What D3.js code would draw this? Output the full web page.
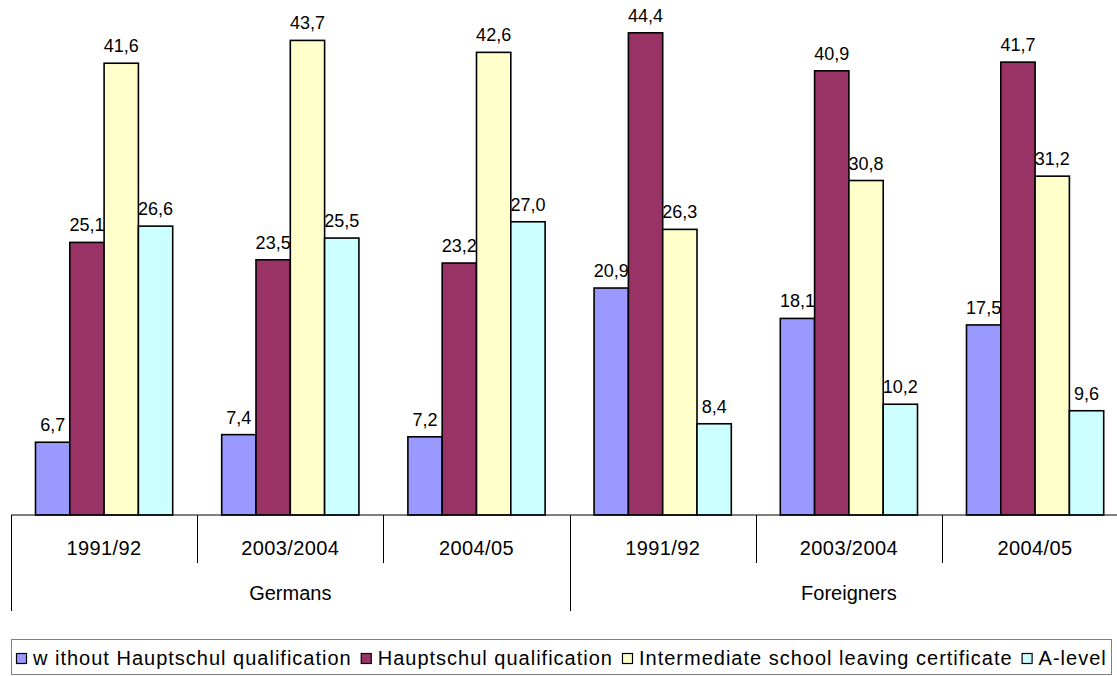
<!DOCTYPE html>
<html>
<head>
<meta charset="utf-8">
<script src="https://cdn.jsdelivr.net/npm/d3@7/dist/d3.min.js"></script>
<style>
html,body{margin:0;padding:0;background:#fff;}
svg{display:block;font-family:"Liberation Sans",Arial,sans-serif;}
</style>
</head>
<body>
<svg id="chart" width="1117" height="676"></svg>
<script>
const categories = ["1991/92","2003/2004","2004/05","1991/92","2003/2004","2004/05"];
const groups = ["Germans","Foreigners"];
const groupSize = 3;
const seriesNames = ["w ithout Hauptschul qualification","Hauptschul qualification","Intermediate school leaving certificate","A-level"];
const withoutHS = [6.7, 7.4, 7.2, 20.9, 18.1, 17.5];
const hauptschul = [25.1, 23.5, 23.2, 44.4, 40.9, 41.7];
const intermediate = [41.6, 43.7, 42.6, 26.3, 30.8, 31.2];
const aLevel = [26.6, 25.5, 27.0, 8.4, 10.2, 9.6];
const seriesValues = [withoutHS, hauptschul, intermediate, aLevel];
const colors = ["#9999FF","#993366","#FFFFCC","#CCFFFF"];

const svg = d3.select("#chart");
const left = 11, step = 186.2, baseY = 515;
const x0 = d3.scaleBand().domain(d3.range(categories.length)).range([left, left + step*categories.length]).padding(0);
const x1 = d3.scaleBand().domain(d3.range(seriesNames.length)).range([0, x0.bandwidth()]).paddingInner(0).paddingOuter(0.714);
const y = d3.scaleLinear().domain([0,45]).range([baseY, baseY - 45*10.86]);
const fmt = v => d3.format(".1f")(v).replace(".", ",");

// bars
const cat = svg.append("g").selectAll("g").data(categories).join("g")
  .attr("transform", (d,i)=>`translate(${x0(i)},0)`);
cat.selectAll("rect").data((d,i)=>seriesValues.map((s,j)=>({j, v:s[i]}))).join("rect")
  .attr("x", d=>x1(d.j)).attr("y", d=>y(d.v))
  .attr("width", x1.bandwidth()).attr("height", d=>y(0)-y(d.v))
  .attr("fill", d=>colors[d.j]).attr("stroke", "#000").attr("stroke-width", 1.6);
cat.selectAll("text").data((d,i)=>seriesValues.map((s,j)=>({j, v:s[i]}))).join("text")
  .attr("x", d=>x1(d.j)+x1.bandwidth()/2).attr("y", d=>y(d.v)-11)
  .attr("text-anchor","middle").attr("font-size", 18).attr("fill","#000")
  .text(d=>fmt(d.v));

// axis line
svg.append("line").attr("x1", left).attr("x2", 1117).attr("y1", baseY).attr("y2", baseY)
  .attr("stroke","#000").attr("stroke-width",1);
// ticks
const tickIdx = d3.range(categories.length+1);
svg.append("g").selectAll("line").data(tickIdx).join("line")
  .attr("x1", i=>Math.round(left + step*i)+0.5).attr("x2", i=>Math.round(left + step*i)+0.5)
  .attr("y1", baseY).attr("y2", i=> (i % groupSize === 0) ? 611 : 563)
  .attr("stroke","#000").attr("stroke-width",1);
// category labels
svg.append("g").selectAll("text").data(categories).join("text")
  .attr("x",(d,i)=>x0(i)+x0.bandwidth()/2).attr("y", 555)
  .attr("text-anchor","middle").attr("font-size",20).attr("letter-spacing",0.4).text(d=>d);
// group labels
svg.append("g").selectAll("text").data(groups).join("text")
  .attr("x",(d,g)=>left + step*groupSize*(g+0.5)).attr("y", 600)
  .attr("text-anchor","middle").attr("font-size",20).text(d=>d);

// legend
const lg = svg.append("g");
lg.append("rect").attr("x",11.5).attr("y",639.5).attr("width",1100).attr("height",35)
  .attr("fill","#fff").attr("stroke","#808080").attr("stroke-width",1);
let lx = 16;
seriesNames.forEach((name,j)=>{
  lg.append("rect").attr("x",lx+0.5).attr("y",653.5).attr("width",10).attr("height",10)
    .attr("fill",colors[j]).attr("stroke","#000").attr("stroke-width",1.2);
  const t = lg.append("text").attr("x",lx+17).attr("y",665).attr("font-size",20)
    .attr("letter-spacing",1.0).text(name);
  lx += 17 + t.node().getComputedTextLength() + 9;
});
</script>
</body>
</html>
